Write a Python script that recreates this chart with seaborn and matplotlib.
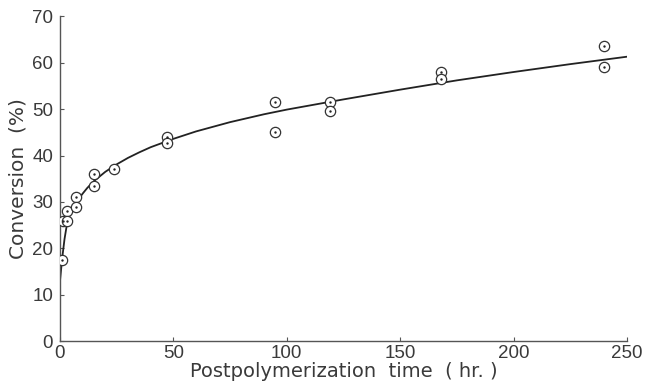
import numpy as np
import pandas as pd
import matplotlib
matplotlib.use("Agg")
import matplotlib.pyplot as plt
import seaborn as sns

# Measured points (hr, %)
time_hr = [1, 1.5, 3, 3, 7, 7, 15, 15, 24, 47, 47, 95, 95, 119, 119, 168, 168, 240, 240]
conversion = [17.5, 26, 28, 26, 31, 29, 36, 33.5, 37, 44, 42.8, 51.5, 45, 51.5, 49.5, 58, 56.5, 63.5, 59]

# Smooth curve
curve_x = [0, 1, 2, 3, 4, 5, 7, 10, 12, 15, 20, 25, 30, 35, 40, 50, 60, 75, 90,
           100, 125, 150, 175, 200, 225, 250]
curve_y = [13, 18, 22, 25, 26.8, 28, 29.8, 31.8, 33, 34.5, 36.5, 38.1, 39.5, 40.7, 41.8,
           43.6, 45.2, 47.2, 48.9, 49.9, 52.1, 54.2, 56.2, 58.0, 59.7, 61.3]

x_ticks = [0, 50, 100, 150, 200, 250]
y_ticks = [0, 10, 20, 30, 40, 50, 60, 70]

sns.set_theme(style="ticks")
plt.rcParams['font.family'] = ['Liberation Sans', 'DejaVu Sans']

fig = plt.figure(figsize=(6.45, 3.89), dpi=100)
ax = fig.add_axes([0.093, 0.123, 0.879, 0.835])

ink = "#222222"
txt = "#3a3a3a"
curve = pd.DataFrame({"t": curve_x, "c": curve_y})
sns.lineplot(data=curve, x="t", y="c", ax=ax, color=ink, linewidth=1.3, estimator=None, sort=True)

pts = pd.DataFrame({"t": time_hr, "c": conversion})
sns.scatterplot(data=pts, x="t", y="c", ax=ax, s=55, marker="o",
                facecolors="white", edgecolor="#333333", linewidth=0.9, zorder=3)
sns.scatterplot(data=pts, x="t", y="c", ax=ax, s=3, marker="o",
                color=ink, edgecolor=ink, linewidth=0, zorder=4)

ax.set_xlim(0, 250)
ax.set_ylim(0, 70)
ax.set_xticks(x_ticks)
ax.set_yticks(y_ticks)
ax.tick_params(direction="in", length=3, width=0.8, colors="#555555", labelsize=13.5, pad=3)
ax.tick_params(axis="y", pad=5)
for lab in ax.get_xticklabels() + ax.get_yticklabels():
    lab.set_color(txt)
sns.despine(ax=ax)
for s in ("left", "bottom"):
    ax.spines[s].set_color("#555555")
    ax.spines[s].set_linewidth(1.0)

ax.set_xlabel("Postpolymerization  time  ( hr. )", fontsize=14, color=txt, labelpad=0,
              family=["DejaVu Sans"])
ax.set_ylabel("Conversion  (%)", fontsize=14.5, color=txt, labelpad=3,
              family=["DejaVu Sans"])

fig.savefig("out.png", dpi=100, facecolor="white")
